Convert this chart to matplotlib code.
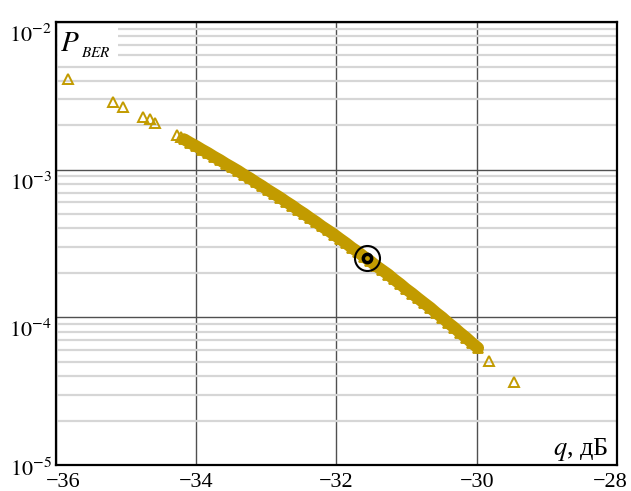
import numpy as np
import matplotlib
matplotlib.use("Agg")
import matplotlib.pyplot as plt
import matplotlib.transforms as mtransforms
from matplotlib.ticker import LogLocator, FixedLocator, NullFormatter

plt.rcParams["font.family"] = ["Liberation Serif", "DejaVu Serif"]
plt.rcParams["mathtext.fontset"] = "stix"

# isolated points (upper-left tail and lower-right tail)
tail_q = [-35.83, -35.19, -35.04, -34.76, -34.66, -34.59, -34.28, -34.21, -29.82, -29.47]
tail_p = [4.09e-3, 2.89e-3, 2.67e-3, 2.29e-3, 2.19e-3, 2.06e-3, 1.72e-3, 1.67e-3, 5.09e-5, 3.67e-5]

# dense band of points
band_q = [-34.17, -34.09, -34.00, -33.92, -33.83, -33.75, -33.66, -33.58, -33.49, -33.40,
          -33.32, -33.23, -33.15, -33.06, -32.98, -32.89, -32.80, -32.72, -32.63, -32.55,
          -32.46, -32.38, -32.29, -32.21, -32.12, -32.03, -31.95, -31.86, -31.78, -31.69,
          -31.61, -31.52, -31.44, -31.35, -31.26, -31.18, -31.09, -31.01, -30.92, -30.84,
          -30.75, -30.66, -30.58, -30.49, -30.41, -30.32, -30.24, -30.15, -30.07, -29.98]
band_p = [1.605e-3, 1.523e-3, 1.444e-3, 1.369e-3, 1.296e-3, 1.227e-3, 1.161e-3, 1.098e-3, 1.038e-3, 9.80e-4,
          9.25e-4, 8.73e-4, 8.23e-4, 7.75e-4, 7.30e-4, 6.87e-4, 6.46e-4, 6.08e-4, 5.71e-4, 5.36e-4,
          5.03e-4, 4.72e-4, 4.42e-4, 4.14e-4, 3.88e-4, 3.63e-4, 3.40e-4, 3.17e-4, 2.96e-4, 2.77e-4,
          2.58e-4, 2.41e-4, 2.24e-4, 2.09e-4, 1.95e-4, 1.81e-4, 1.68e-4, 1.56e-4, 1.45e-4, 1.35e-4,
          1.25e-4, 1.16e-4, 1.075e-4, 9.96e-5, 9.21e-5, 8.52e-5, 7.88e-5, 7.28e-5, 6.72e-5, 6.20e-5]

# highlighted operating point
opt_q = -31.57
opt_p = 2.52e-4

x_ticks = [-36, -34, -32, -30, -28]
x_labels = ["\u221236", "\u221234", "\u221232", "\u221230", "\u221228"]
y_ticks = [1e-5, 1e-4, 1e-3, 1e-2]
y_labels = ["$10^{-5}$", "$10^{-4}$", "$10^{-3}$", "$10^{-2}$"]

gold = "#C29B00"

fig = plt.figure(figsize=(6.31, 4.91), dpi=100)
ax = fig.add_axes([0.0887, 0.053, 0.889, 0.902])
ax.set_yscale("log")
ax.set_xlim(-36, -28)
ax.set_ylim(1e-5, 1e-2)

# grid
ax.yaxis.set_minor_locator(LogLocator(base=10, subs=np.arange(2, 10)))
ax.yaxis.set_minor_formatter(NullFormatter())
ax.grid(which="minor", axis="y", color="#d6d6d6", lw=1.6, zorder=0)
ax.grid(which="major", axis="both", color="#505050", lw=1.0, zorder=1)
ax.xaxis.set_major_locator(FixedLocator(x_ticks))
ax.set_xticklabels(x_labels)
ax.set_yticks(y_ticks)
ax.set_yticklabels(y_labels)
ax.tick_params(which="both", length=0, labelsize=16, pad=6)
for s in ax.spines.values():
    s.set_linewidth(1.6)
    s.set_zorder(5)

# nudge the tick labels like in the original figure
xl = ax.get_xticklabels()
xl[0].set_transform(xl[0].get_transform() + mtransforms.ScaledTranslation(0.07, 0, fig.dpi_scale_trans))
xl[-1].set_transform(xl[-1].get_transform() + mtransforms.ScaledTranslation(-0.07, 0, fig.dpi_scale_trans))
yl = ax.get_yticklabels()
for i, lab in enumerate(yl):
    dy = -0.02 if i == 0 else -0.11
    lab.set_transform(lab.get_transform() + mtransforms.ScaledTranslation(0.04, dy, fig.dpi_scale_trans))

# data: the dense cloud of overlapping triangles reads as one thick band
ax.plot(band_q, band_p, ls="-", lw=8.6, color=gold, solid_capstyle="round",
        marker="^", ms=7.5, mfc=gold, mec=gold, mew=1.3, zorder=3)
ax.plot(tail_q, tail_p, ls="none", marker="^", ms=6.5, color=gold, mfc="none",
        mec=gold, mew=1.4, zorder=3)

ax.plot([opt_q], [opt_p], ls="none", marker="o", ms=18, mfc="none", mec="black", mew=1.5, zorder=4)
ax.plot([opt_q], [opt_p], ls="none", marker="o", ms=7.5, mfc="black", mec="black", zorder=4)
ax.plot([opt_q], [opt_p], ls="none", marker="o", ms=2.4, mfc=gold, mec=gold, zorder=4)

# axis captions inside the frame
ax.add_patch(plt.Rectangle((0.003, 0.915), 0.108, 0.08, transform=ax.transAxes,
                           facecolor="white", edgecolor="none", zorder=2))
ax.text(0.008, 0.934, "$P$", transform=ax.transAxes, ha="left", va="baseline",
        fontsize=21, zorder=6)
ax.text(0.045, 0.921, "$BER$", transform=ax.transAxes, ha="left", va="baseline",
        fontsize=11, zorder=6)
ax.text(0.985, 0.023, "$q$, дБ", transform=ax.transAxes, ha="right", va="baseline",
        fontsize=19, zorder=6)

fig.savefig("out.png", dpi=100)
